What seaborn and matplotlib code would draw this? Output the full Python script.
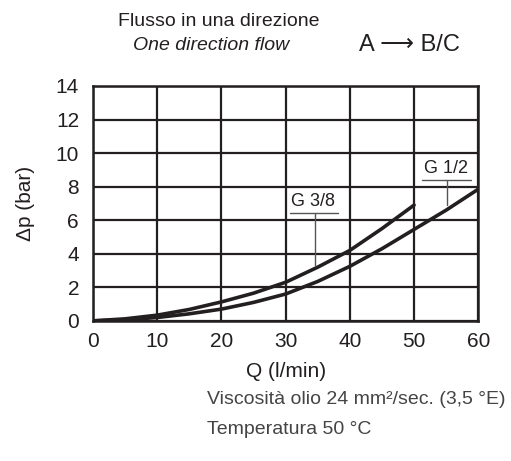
import numpy as np
import pandas as pd
import seaborn as sns
import matplotlib.pyplot as plt

# curves
q_38 = [0, 5, 10, 15, 20, 25, 30, 35, 40, 45, 50]
dp_38 = [0, 0.12, 0.34, 0.68, 1.13, 1.65, 2.3, 3.2, 4.2, 5.5, 6.9]
q_12 = [0, 5, 10, 15, 20, 25, 30, 35, 40, 45, 50, 55, 60]
dp_12 = [0, 0.06, 0.2, 0.42, 0.7, 1.1, 1.6, 2.35, 3.25, 4.3, 5.45, 6.6, 7.85]
x_ticks = [0, 10, 20, 30, 40, 50, 60]
y_ticks = [0, 2, 4, 6, 8, 10, 12, 14]

df = pd.concat([
    pd.DataFrame({"Q": q_38, "dp": dp_38, "size": "G 3/8"}),
    pd.DataFrame({"Q": q_12, "dp": dp_12, "size": "G 1/2"}),
])

sns.set_theme(style="white")
plt.rcParams['font.family'] = ['Liberation Sans', 'DejaVu Sans']

ink = "#231f20"
fig = plt.figure(figsize=(5.11, 4.61), dpi=100)
ax = fig.add_axes([0.182, 0.304, 0.754, 0.5095])

sns.lineplot(data=df, x="Q", y="dp", hue="size", palette=[ink, ink],
             linewidth=2.6, legend=False, ax=ax, sort=False)

ax.set_xlim(0, 60)
ax.set_ylim(0, 14)
ax.set_xticks(x_ticks)
ax.set_yticks(y_ticks)
ax.grid(True, color=ink, linewidth=1.6)
for s in ax.spines.values():
    s.set_color(ink)
    s.set_linewidth(1.8)
ax.tick_params(length=0, labelsize=15, colors=ink)
ax.tick_params(axis="x", pad=8)
ax.tick_params(axis="y", pad=10)
ax.set_xlabel("Q (l/min)", fontsize=15, color=ink, labelpad=8)
ax.set_ylabel("Δp (bar)", fontsize=15, color=ink, labelpad=15)

# size labels with leaders
ax.text(34.3, 6.6, "G 3/8", ha="center", va="bottom", fontsize=13, color=ink)
ax.plot([30.6, 38.1], [6.45, 6.45], color="#555555", lw=1.0)
ax.plot([34.5, 34.5], [6.45, 3.25], color="#555555", lw=1.0)
ax.text(55.0, 8.55, "G 1/2", ha="center", va="bottom", fontsize=13, color=ink)
ax.plot([51.2, 58.9], [8.4, 8.4], color="#555555", lw=1.0)
ax.plot([55.2, 55.2], [8.4, 6.9], color="#555555", lw=1.0)

fig.text(219 / 511, 1 - 21 / 461, "Flusso in una direzione", ha="center",
         va="center", fontsize=14, color=ink)
fig.text(211 / 511, 1 - 46 / 461, "One direction flow", ha="center",
         va="center", fontsize=14, style="italic", color=ink)
fig.text(409 / 511, 1 - 45 / 461, "A ⟶ B/C", ha="center", va="center",
         fontsize=17, color=ink)

fig.text(207 / 511, 1 - 399 / 461, "Viscosità olio 24 mm²/sec. (3,5 °E)",
         ha="left", va="center", fontsize=14, color="#444444")
fig.text(207 / 511, 1 - 429 / 461, "Temperatura 50 °C", ha="left",
         va="center", fontsize=14, color="#444444")

fig.savefig("out.png", dpi=100)
